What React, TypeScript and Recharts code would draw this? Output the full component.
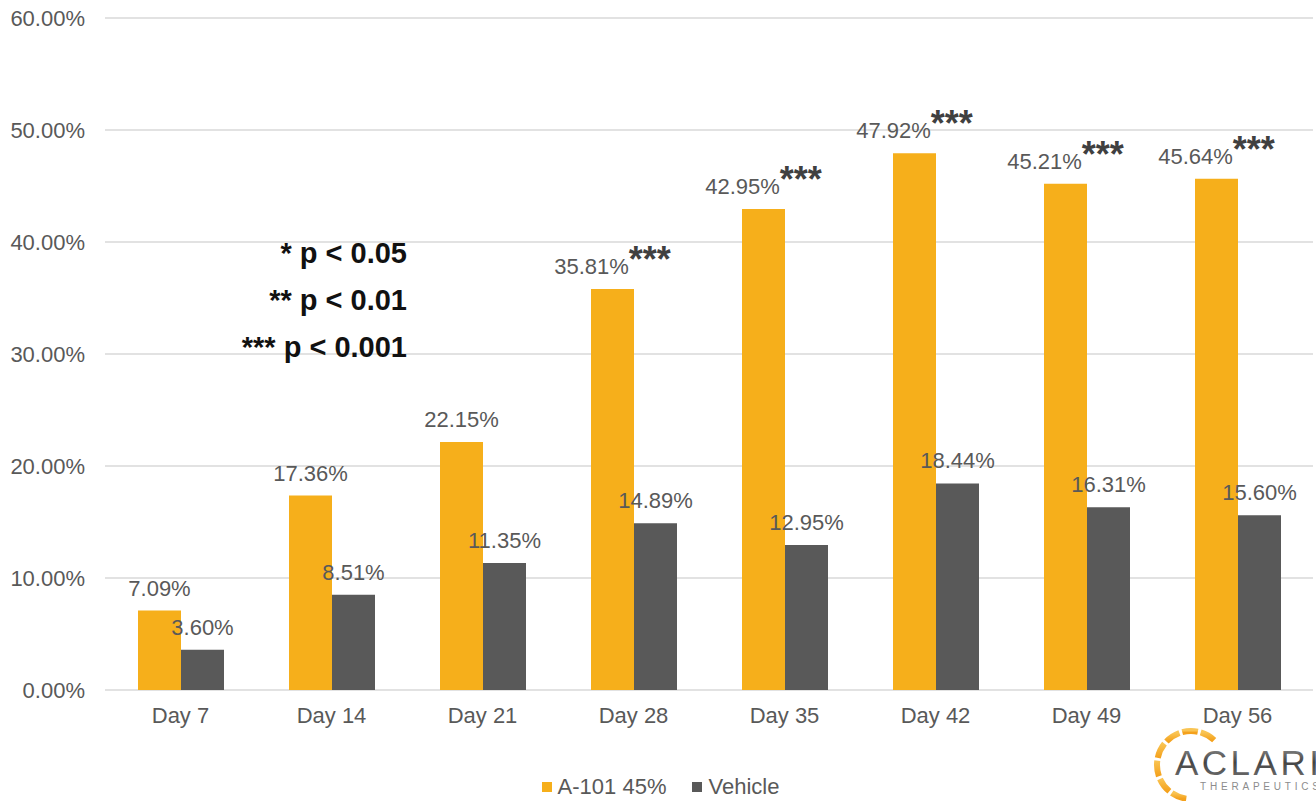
import React from "react";
import {
  BarChart,
  Bar,
  XAxis,
  YAxis,
  CartesianGrid,
  Legend,
  LabelList,
  Customized,
} from "recharts";

// Hair regrowth response by visit, A-101 45% vs vehicle
const days = ["Day 7", "Day 14", "Day 21", "Day 28", "Day 35", "Day 42", "Day 49", "Day 56"];
const a101 = [7.09, 17.36, 22.15, 35.81, 42.95, 47.92, 45.21, 45.64];
const vehicle = [3.6, 8.51, 11.35, 14.89, 12.95, 18.44, 16.31, 15.6];
const significance = ["", "", "", "***", "***", "***", "***", "***"];
const yTicks = [0, 10, 20, 30, 40, 50, 60];
const pValueNotes = ["* p < 0.05", "** p < 0.01", "*** p < 0.001"];

const ORANGE = "#F6AF1B";
const GREY = "#595959";
const TEXT = "#595959";
const GRID = "#D9D9D9";
const FONT = "'Liberation Sans', Arial, Helvetica, sans-serif";

const pct = (v: number) => `${v.toFixed(2)}%`;

const data = days.map((day, i) => ({
  day,
  a101: a101[i],
  vehicle: vehicle[i],
  // "value|stars" so the label renderer gets both in one go
  a101Label: `${a101[i]}|${significance[i]}`,
  vehicleLabel: `${vehicle[i]}|`,
}));

function ValueLabel(props: any) {
  const box = props.viewBox ?? props;
  const x = Number(props.x ?? box.x);
  const y = Number(props.y ?? box.y);
  const width = Number(props.width ?? box.width);
  const [num, stars] = String(props.value).split("|");
  return (
    <text
      x={x + width / 2}
      y={y - 15}
      textAnchor="middle"
      fontSize={22}
      fill={TEXT}
      fontFamily={FONT}
    >
      {pct(Number(num))}
      {stars ? (
        <tspan fontSize={36} fontWeight="bold" fill="#404040" dy={-2}>
          {stars}
        </tspan>
      ) : null}
    </text>
  );
}

function LegendContent(props: any) {
  const items = props.payload ?? [];
  return (
    <div
      style={{
        display: "flex",
        justifyContent: "center",
        alignItems: "center",
        gap: 26,
        fontSize: 22,
        lineHeight: "24px",
        color: TEXT,
        fontFamily: FONT,
        paddingLeft: 8,
      }}
    >
      {items.map((item: any) => (
        <span key={item.value} style={{ display: "flex", alignItems: "center" }}>
          <span
            style={{
              display: "inline-block",
              width: 10,
              height: 10,
              background: item.color,
              marginRight: 6,
            }}
          />
          {item.value}
        </span>
      ))}
    </div>
  );
}

function PValueNotes() {
  return (
    <g fontFamily={FONT} fontWeight="bold" fontSize={29} fill="#111">
      {pValueNotes.map((t, i) => (
        <text key={t} x={407} y={263 + i * 47} textAnchor="end">
          {t}
        </text>
      ))}
    </g>
  );
}

// company mark in the bottom-right corner: segmented ring + wordmark
function Logo() {
  const cx = 1191;
  const cy = 765;
  const r = 34;
  const start = 98;
  const sweep = 215;
  const segs = 7;
  const gap = 5;
  const span = (sweep - gap * (segs - 1)) / segs;
  const arcs = Array.from({ length: segs }, (_, i) => {
    const a0 = ((start + i * (span + gap)) * Math.PI) / 180;
    const a1 = ((start + i * (span + gap) + span) * Math.PI) / 180;
    const p0 = [cx + r * Math.cos(a0), cy + r * Math.sin(a0)];
    const p1 = [cx + r * Math.cos(a1), cy + r * Math.sin(a1)];
    return `M${p0[0]},${p0[1]} A${r},${r} 0 0 1 ${p1[0]},${p1[1]}`;
  });
  return (
    <g>
      <defs>
        <linearGradient id="ringGrad" x1="0" y1="1" x2="0" y2="0">
          <stop offset="0" stopColor="#F4A11C" />
          <stop offset="1" stopColor="#F9C453" />
        </linearGradient>
        <linearGradient id="wordGrad" x1="0" y1="0" x2="0" y2="1">
          <stop offset="0" stopColor="#9A9A9A" />
          <stop offset="0.5" stopColor="#444" />
          <stop offset="1" stopColor="#777" />
        </linearGradient>
      </defs>
      {arcs.map((d, i) => (
        <path key={i} d={d} fill="none" stroke="url(#ringGrad)" strokeWidth={6} />
      ))}
      <text
        x={1175}
        y={775}
        fontFamily={FONT}
        fontSize={35}
        fill="url(#wordGrad)"
        letterSpacing={3.5}
      >
        ACLARIS
      </text>
      <text x={1200} y={790} fontFamily={FONT} fontSize={10} fill="#8C8C8C" letterSpacing={3.8}>
        THERAPEUTICS
      </text>
    </g>
  );
}

export default function App() {
  return (
    <div style={{ position: "absolute", left: 0, top: 0, background: "#fff", fontFamily: FONT }}>
      <BarChart
        width={1316}
        height={801}
        data={data}
        margin={{ top: 18, right: 3, left: 0, bottom: 2 }}
        barGap={0}
      >
        <CartesianGrid vertical={false} stroke={GRID} strokeWidth={1.5} />
        <XAxis
          dataKey="day"
          interval={0}
          height={85}
          tickLine={false}
          axisLine={false}
          tickMargin={11}
          tick={{ fill: TEXT, fontSize: 22, fontFamily: FONT }}
        />
        <YAxis
          domain={[0, 60]}
          ticks={yTicks}
          tickFormatter={pct}
          width={105}
          tickLine={false}
          axisLine={false}
          tickMargin={14}
          tick={{ fill: TEXT, fontSize: 22, fontFamily: FONT }}
        />
        <Legend verticalAlign="bottom" height={24} content={<LegendContent />} />
        <Bar dataKey="a101" name="A-101 45%" fill={ORANGE} barSize={43} isAnimationActive={false}>
          <LabelList dataKey="a101Label" content={<ValueLabel />} />
        </Bar>
        <Bar dataKey="vehicle" name="Vehicle" fill={GREY} barSize={43} isAnimationActive={false}>
          <LabelList dataKey="vehicleLabel" content={<ValueLabel />} />
        </Bar>
        <Customized component={<PValueNotes />} />
        <Customized component={<Logo />} />
      </BarChart>
    </div>
  );
}
